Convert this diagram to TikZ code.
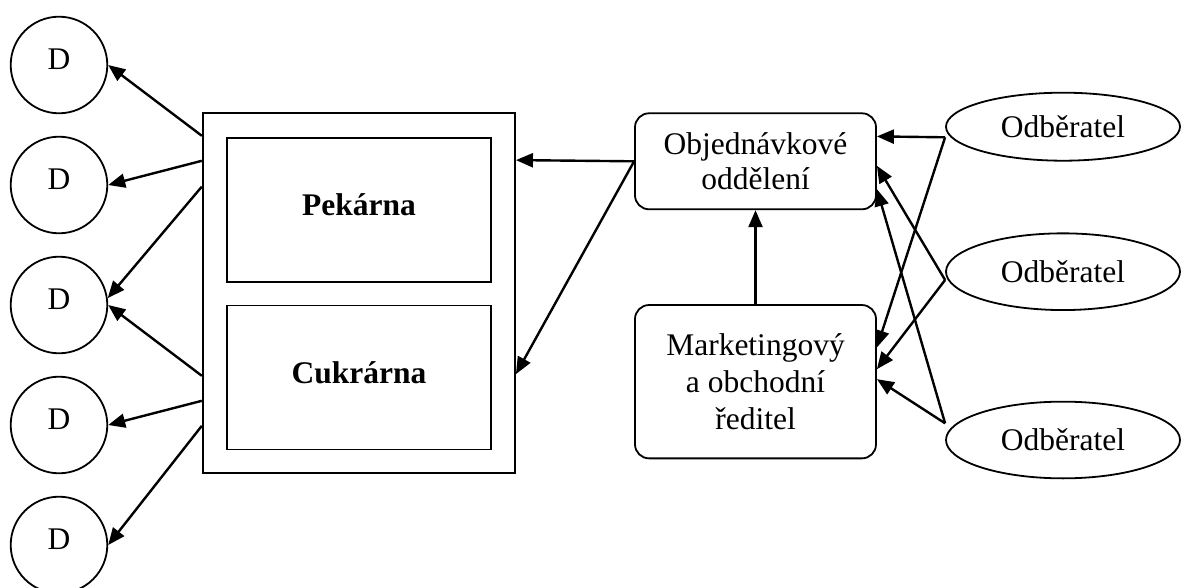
\documentclass[tikz,border=0pt]{standalone}
\usepackage{fontspec}
\setmainfont{Liberation Serif}
\usetikzlibrary{arrows.meta,shapes.geometric}
\begin{document}
\begin{tikzpicture}[x=1pt,y=-1pt,
  every node/.style={font=\fontsize{31.5}{36.7}\selectfont},
  outline/.style={draw, line width=1.8pt, inner sep=0pt},
  dept/.style={circle, outline, minimum size=96.6pt, text height=21pt, text depth=12pt},
  frame/.style={rectangle, outline, minimum width=312.3pt, minimum height=360pt},
  plant/.style={rectangle, outline, minimum width=264.3pt, minimum height=144pt,
    font=\fontsize{31.5}{36}\selectfont\bfseries, text height=21pt, text depth=10pt},
  office/.style={rectangle, rounded corners=14pt, outline, minimum width=241pt, align=center},
  client/.style={ellipse, outline, minimum width=234pt, text height=21pt, text depth=0pt},
  arr/.style={line width=2.4pt, -{Triangle[length=17pt,width=14pt]}}
]
\useasboundingbox (0,0) rectangle (1181,588);

% distribution points
\node[dept] (d1) at (59,65)  {D};
\node[dept] (d2) at (59,185) {D};
\node[dept] (d3) at (59,305) {D};
\node[dept] (d4) at (59,425) {D};
\node[dept] (d5) at (59,545) {D};

% production plant with its two shops
\node[frame] (outer) at (358.9,293.3) {};
\node[plant] (pek) at (358.9,209.7) {Pekárna};
\node[plant] (cuk) at (358.9,377.5) {Cukrárna};

% offices
\node[office, minimum height=96pt, font=\fontsize{31.5}{34.7}\selectfont] (obj) at (755.5,161.3) {Objednávkové\\oddělení};
\node[office, minimum height=153.3pt] (mkt) at (755.5,381.7) {Marketingový\\a obchodní\\ředitel};

% customers
\node[client, minimum height=68pt]   (o1) at (1063,126.7) {Odběratel};
\node[client, minimum height=76.7pt] (o2) at (1063,271.7) {Odběratel};
\node[client, minimum height=76.7pt] (o3) at (1063,440)   {Odběratel};

% deliveries from the plant
\draw[arr] ([yshift=-23.4pt]outer.north west) -- (d1.east);
\draw[arr] ([yshift=-48.4pt]outer.north west) -- (d2.east);
\draw[arr] ([yshift=-74.2pt]outer.north west) -- (d3.8);
\draw[arr] ([yshift=-263.4pt]outer.north west) -- (d3.east);
\draw[arr] ([yshift=-288.4pt]outer.north west) -- (d4.east);
\draw[arr] ([yshift=-313.4pt]outer.north west) -- (d5.east);

% orders to the plant
\draw[arr] (obj.west) -- ([yshift=-47.7pt]outer.north east);
\draw[arr] (obj.west) -- ([yshift=-261.7pt]outer.north east);

% management to order office
\draw[arr] (mkt.north) -- (obj.south);

% customers to offices
\coordinate (s1) at ([yshift=-10.6pt]o1.west);
\coordinate (s2) at ([yshift=-8.3pt]o2.west);
\coordinate (s3) at ([yshift=16.7pt]o3.west);
\draw[arr] (s1) -- ([yshift=-24pt]obj.north east);
\draw[arr] (s1) -- ([yshift=-43.3pt]mkt.north east);
\draw[arr] (s2) -- ([yshift=-53.4pt]obj.north east);
\draw[arr] (s2) -- ([yshift=-65pt]mkt.north east);
\draw[arr] (s3) -- ([yshift=-76.7pt]obj.north east);
\draw[arr] (s3) -- ([yshift=-75pt]mkt.north east);
\end{tikzpicture}
\end{document}
